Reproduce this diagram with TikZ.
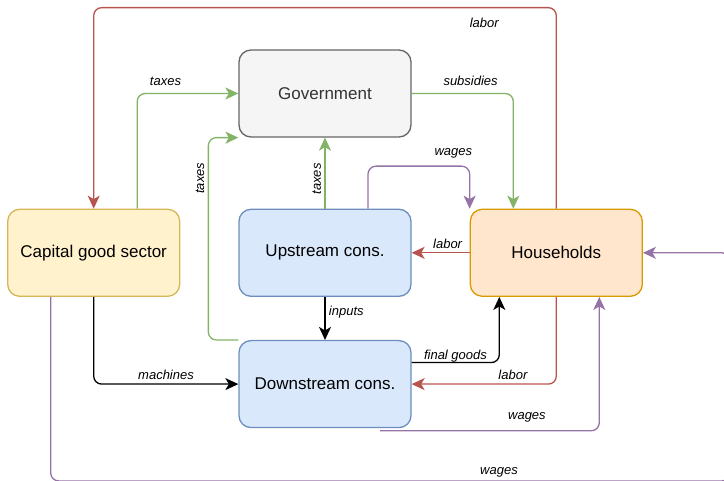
\documentclass[tikz,border=0pt]{standalone}
\usepackage{fontspec}
\setmainfont{Liberation Sans}
\usetikzlibrary{arrows.meta,positioning,calc}
\definecolor{govfill}{HTML}{F5F5F5}
\definecolor{govline}{HTML}{666666}
\definecolor{govtext}{HTML}{333333}
\definecolor{capfill}{HTML}{FFF2CC}
\definecolor{capline}{HTML}{D6B656}
\definecolor{consfill}{HTML}{DAE8FC}
\definecolor{consline}{HTML}{6C8EBF}
\definecolor{hhfill}{HTML}{FFE6CC}
\definecolor{hhline}{HTML}{D79B00}
\definecolor{taxcolor}{HTML}{82B366}
\definecolor{laborcolor}{HTML}{B85450}
\definecolor{wagecolor}{HTML}{9673A6}

\begin{document}
\begin{tikzpicture}[
    x=1pt, y=1pt,
    box/.style={rectangle, rounded corners=12pt, draw, line width=1.3pt, minimum width=172pt, minimum height=87pt, font=\fontsize{17}{20}\selectfont},
    govbox/.style={box, fill=govfill, draw=govline, text=govtext},
    capbox/.style={box, fill=capfill, draw=capline},
    consbox/.style={box, fill=consfill, draw=consline},
    hhbox/.style={box, fill=hhfill, draw=hhline},
    arrow/.style={->, >={Stealth[length=13pt,width=12pt,inset=3.5pt]}, line width=1.3pt, rounded corners=8pt},
    lbl/.style={font=\fontsize{13}{15}\selectfont\itshape, text=black}
]
\useasboundingbox (0,0) rectangle (724,-481);

% Sectors
\node[govbox] (gov) at (325,-93.5) {Government};
\node[consbox, below=71pt of gov] (up) {Upstream cons.};
\node[capbox, left=58pt of up] (cap) {Capital good sector};
\node[hhbox, right=58pt of up] (hh) {Households};
\node[consbox, below=43pt of up] (down) {Downstream cons.};

% Taxes and subsidies
\draw[arrow, taxcolor] ($(cap.north)+(43.5,0)$) |- node[lbl, above, pos=0.64, yshift=4pt] (tax1) {taxes} (gov.west);
\draw[arrow, taxcolor] (gov.east) -| node[lbl, above, pos=0.29, yshift=4pt] (sub) {subsidies} ($(hh.north)+(-43,0)$);
\draw[arrow, taxcolor] (down.north west) -- ++(-30,0) |- node[lbl, rotate=90, above, pos=0.4] (tax2) {taxes} (gov.south west);
\draw[arrow, taxcolor] (up.north) -- node[lbl, rotate=90, above, pos=0.42] (tax3) {taxes} (gov.south);

% Labor
\draw[arrow, laborcolor] (hh.north) -- ++(0,201) node[lbl, xshift=-72pt, yshift=-15pt] (lab1) {labor} -| (cap.north);
\draw[arrow, laborcolor] (hh.west) -- node[lbl, above, pos=0.38] (lab2) {labor} (up.east);
\draw[arrow, laborcolor] (hh.south) |- node[lbl, above, pos=0.65] (lab3) {labor} (down.east);

% Goods
\draw[arrow] (up.south) -- node[lbl, right, pos=0.35] (inp) {inputs} (down.north);
\draw[arrow] ($(down.east)+(0,21.5)$) -| node[lbl, above, pos=0.25, yshift=-4pt] (fin) {final goods} ($(hh.south)+(-57,0)$);
\draw[arrow] (cap.south) |- node[lbl, above, pos=0.75] (mach) {machines} (down.west);

% Wages
\draw[arrow, wagecolor] ($(up.north)+(43,0)$) -- ++(0,42.5) -| node[lbl, above, pos=0.42, yshift=4pt] (wag1) {wages} (hh.north west);
\draw[arrow, wagecolor] ($(down.south)+(55,-2.5)$) -| node[lbl, above, pos=0.335, yshift=5pt] (wag2) {wages} ($(hh.south)+(43,0)$);
\coordinate (wbot) at ($(cap.south)+(-43,-184)$);
\draw[arrow, wagecolor] ($(cap.south)+(-43,0)$) -- (wbot) -| node[lbl, above, pos=0.33] (wag3) {wages} ($(hh.east)+(87,0)$) -- (hh.east);

\end{tikzpicture}
\end{document}
